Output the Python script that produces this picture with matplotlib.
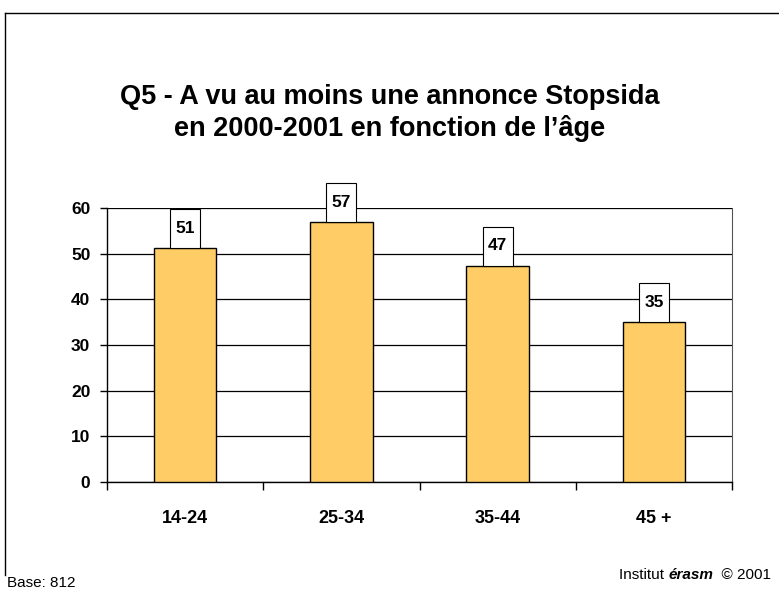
import matplotlib
matplotlib.use("Agg")
import matplotlib.pyplot as plt
import matplotlib.transforms as mtransforms
from matplotlib.patches import Rectangle
from matplotlib.lines import Line2D
import numpy as np

plt.rcParams['font.family'] = ['Liberation Sans', 'DejaVu Sans']

# donnees
categories = ['14-24', '25-34', '35-44', '45 +']
valeurs = [51.2, 56.9, 47.3, 35.0]
etiquettes = ['51', '57', '47', '35']
yticks = [0, 10, 20, 30, 40, 50, 60]

W, H = 779, 592
fig = plt.figure(figsize=(W / 100, H / 100), dpi=100)
ax = fig.add_axes([107 / W, 1 - 482 / H, (732 - 107) / W, (482 - 208) / H])

x = np.arange(len(categories))
ax.bar(x, valeurs, width=0.4, color='#FFCC66', edgecolor='black', linewidth=1, zorder=3)

ax.set_xlim(-0.5, len(categories) - 0.5)
ax.set_ylim(0, 60)
ax.set_yticks(yticks)
ax.set_yticklabels([str(v) for v in yticks], fontsize=12.5, fontweight='bold')
ax.yaxis.grid(True, color='black', linewidth=0.9, zorder=0)
ax.set_xticks(x)
ax.set_xticklabels(categories, fontsize=13, fontweight='bold')
ax.tick_params(axis='x', which='major', length=0, pad=20)
ax.set_xticks(np.arange(-0.5, len(categories)), minor=True)
ax.tick_params(axis='x', which='minor', length=6, width=1, color='black', direction='out')
ax.tick_params(axis='y', length=5, width=1, direction='out', pad=7)
for s in ['left', 'bottom']:
    ax.spines[s].set_color('black')
    ax.spines[s].set_linewidth(1)
ax.spines['right'].set_color('#555555')
ax.spines['top'].set_visible(False)

# etiquettes de valeur dans des boites blanches
for xi, v, lab in zip(x, valeurs, etiquettes):
    tr = mtransforms.Affine2D().translate(-15, 0) + mtransforms.ScaledTranslation(xi, v, ax.transData)
    ax.add_patch(Rectangle((0, 0), 30, 39, transform=tr, facecolor='white',
                           edgecolor='black', linewidth=0.8, clip_on=False, zorder=4))
    tt = mtransforms.Affine2D().translate(0, 20) + mtransforms.ScaledTranslation(xi, v, ax.transData)
    ax.text(0, 0, lab, transform=tt, ha='center', va='center', fontsize=12.5,
            fontweight='bold', zorder=5)

fig.text(0.5, 1 - 97 / H, "Q5 - A vu au moins une annonce Stopsida", ha='center', va='center',
         fontsize=19.5, fontweight='bold')
fig.text(0.5, 1 - 129 / H, "en 2000-2001 en fonction de l\u2019\u00e2ge", ha='center', va='center',
         fontsize=19.5, fontweight='bold')

# cadre
fig.add_artist(Line2D([5 / W, 1], [1 - 13 / H, 1 - 13 / H], color='black', linewidth=1))
fig.add_artist(Line2D([5 / W, 5 / W], [1 - 13 / H, 1 - 575 / H], color='black', linewidth=1))

fig.text(7 / W, 1 - 583 / H, "Base: 812", ha='left', va='center', fontsize=11)
t1 = fig.text(619 / W, 1 - 579 / H, "Institut ", ha='left', va='baseline', fontsize=11)
a2 = plt.annotate("\u00e9rasm", xy=(1, 0), xycoords=t1, va='bottom', ha='left', fontsize=11,
                  fontweight='bold', fontstyle='italic')
a3 = plt.annotate("  \u00a9 2001", xy=(1, 0), xycoords=a2, va='bottom', ha='left', fontsize=11)

fig.savefig("out.png", dpi=100)
